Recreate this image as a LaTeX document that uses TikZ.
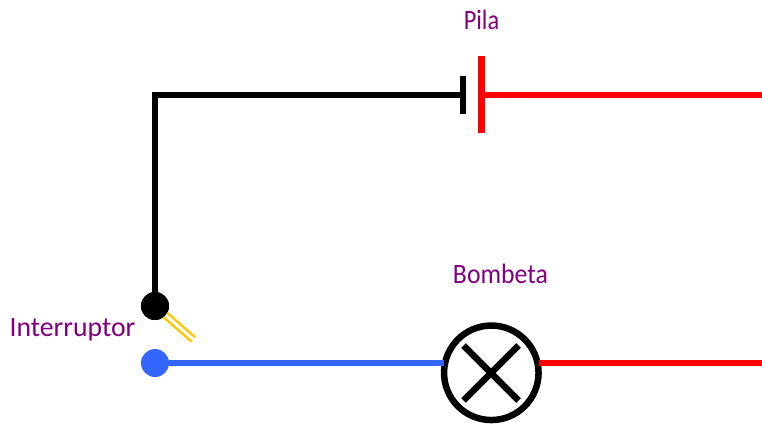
\documentclass[tikz,border=0pt]{standalone}
\usepackage{graphicx}
\usepackage{fontspec}
\setmainfont{Carlito}
\definecolor{lbl}{HTML}{800080}
\definecolor{sw}{HTML}{FFC800}
\definecolor{bl}{HTML}{3366FF}
\begin{document}
\begin{tikzpicture}[x=1pt,y=-1pt,
  wire/.style={line width=6pt},
  lab/.style={text=lbl,font=\fontsize{28}{28}\selectfont,inner sep=0pt,anchor=base},
  term/.style={circle,minimum size=28pt,inner sep=0pt}]
\useasboundingbox (0,0) rectangle (762,423);
% coordinates
\coordinate (corner) at (155,95);
\coordinate (bp) at (462.5,95);
\coordinate (bpT) at (462.5,75.5);
\coordinate (bpB) at (462.5,114);
\coordinate (rp) at (481.5,95);
\coordinate (rpT) at (481.5,56);
\coordinate (rpB) at (481.5,133);
\coordinate (rEnd) at (762,95);
\coordinate (r2End) at (762,363);
\coordinate (swEnd) at (193.5,339.5);
\coordinate (xa) at (463.5,345.5);
\coordinate (xb) at (518.5,400.5);
\coordinate (xc) at (518.5,345.5);
\coordinate (xd) at (463.5,400.5);
% nodes
\node[term,fill=black] (a) at (155,306) {};
\node[term,fill=bl] (b) at (155,363) {};
\node[circle,draw=black,line width=6.5pt,fill=white,minimum size=94.5pt,inner sep=0pt,outer sep=0pt] (lamp) at (491.3,372.8) {};
% connectors
\draw[wire,line cap=rect] (a) -- (corner) -- (bp);
\draw[line width=6pt] (bpT) -- (bpB);
\draw[line width=6.5pt,red] (rpT) -- (rpB);
\draw[wire,red] (rp) -- (rEnd);
\draw[wire,bl] (b.east) -- (lamp.west |- b.east);
\draw[wire,red] (lamp.east |- r2End) -- (r2End);
\draw[sw,line width=2.5pt,double=white,double distance=3pt] (a.center) -- (swEnd);
\node[term,fill=black] at (a) {};
\draw[line width=6.5pt] (xa) -- (xb);
\draw[line width=6.5pt] (xc) -- (xd);
% labels
\node[lab] (pila) at (481.5,29) {\scalebox{0.87}[1]{Pila}};
\node[lab] (bombeta) at (500.5,283) {\scalebox{0.92}[1]{Bombeta}};
\node[lab] (int) at (72.5,336) {\scalebox{0.99}[1]{Interruptor}};
\end{tikzpicture}
\end{document}
